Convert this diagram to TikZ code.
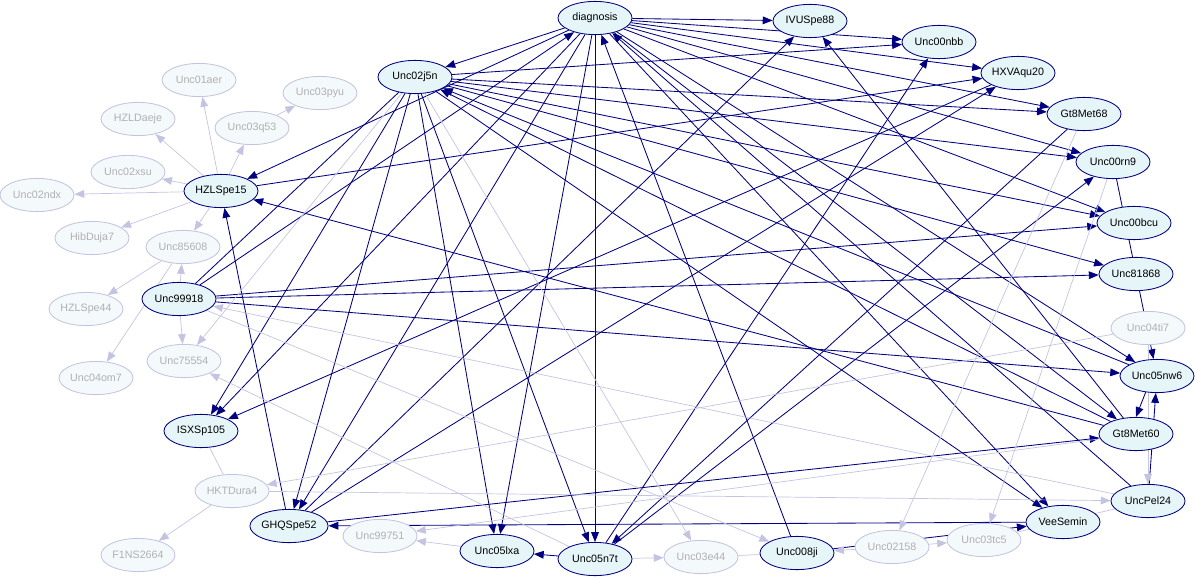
\documentclass[tikz,border=0pt]{standalone}
\usepackage{fontspec}
\setmainfont{Liberation Sans}
\usetikzlibrary{arrows.meta, shapes.geometric, backgrounds}
\definecolor{mbline}{RGB}{0,0,128}
\definecolor{mbfill}{RGB}{229,245,248}
\definecolor{farline}{RGB}{196,196,226}
\definecolor{farfill}{RGB}{244,249,251}
\definecolor{fartext}{RGB}{176,176,176}
\tikzset{
  varnode/.style = {ellipse, align=center, inner sep=0pt, line width=0.6pt,
    minimum width=1.85cm, minimum height=0.83cm,
    font=\fontsize{7.6}{9}\selectfont},
  mbnode/.style = {varnode, draw=mbline, fill=mbfill, text=black},
  farnode/.style = {varnode, draw=farline, fill=farfill, text=fartext},
  faredge/.style = {draw=farline, line width=0.5pt}
}
\begin{document}
\begin{tikzpicture}[x=0.025cm, y=-0.025cm, ->, >={Triangle[length=7pt, width=5.5pt]},
  every edge/.style={draw=mbline, line width=0.6pt}]
\useasboundingbox (0,0) rectangle (1195,578);
% markov blanket
\node [mbnode] (diagnosis) at (595,18) {diagnosis};
\node [mbnode] (IVUSpe88) at (810,21) {IVUSpe88};
\node [mbnode] (Unc00nbb) at (939,42) {Unc00nbb};
\node [mbnode] (HXVAqu20) at (1018,73) {HXVAqu20};
\node [mbnode] (Gt8Met68) at (1084,114) {Gt8Met68};
\node [mbnode] (Unc00rn9) at (1113,162) {Unc00rn9};
\node [mbnode] (Unc00bcu) at (1134,223) {Unc00bcu};
\node [mbnode] (Unc81868) at (1136,274) {Unc81868};
\node [mbnode] (Unc05nw6) at (1157,376) {Unc05nw6};
\node [mbnode] (Gt8Met60) at (1136,434) {Gt8Met60};
\node [mbnode] (UncPel24) at (1148,501) {UncPel24};
\node [mbnode] (VeeSemin) at (1063,522) {VeeSemin};
\node [mbnode] (Unc008ji) at (797,553) {Unc008ji};
\node [mbnode] (Unc05n7t) at (595,559) {Unc05n7t};
\node [mbnode] (Unc05lxa) at (497,551) {Unc05lxa};
\node [mbnode] (GHQSpe52) at (289,526) {GHQSpe52};
\node [mbnode] (ISXSp105) at (201,431) {ISXSp105};
\node [mbnode] (Unc99918) at (179,299) {Unc99918};
\node [mbnode] (HZLSpe15) at (221,191) {HZLSpe15};
\node [mbnode] (Unc02j5n) at (415,77) {Unc02j5n};
% the rest
\node [farnode] (Unc01aer) at (199,80) {Unc01aer};
\node [farnode] (Unc03pyu) at (320,93) {Unc03pyu};
\node [farnode] (HZLDaeje) at (138,119) {HZLDaeje};
\node [farnode] (Unc03q53) at (252,128) {Unc03q53};
\node [farnode] (Unc02xsu) at (128,172) {Unc02xsu};
\node [farnode] (Unc02ndx) at (37,195) {Unc02ndx};
\node [farnode] (HibDuja7) at (92,238) {HibDuja7};
\node [farnode] (Unc85608) at (183,247) {Unc85608};
\node [farnode] (HZLSpe44) at (86,309) {HZLSpe44};
\node [farnode] (Unc75554) at (184,361) {Unc75554};
\node [farnode] (Unc04om7) at (96,378) {Unc04om7};
\node [farnode] (HKTDura4) at (232,491) {HKTDura4};
\node [farnode] (F1NS2664) at (138,555) {F1NS2664};
\node [farnode] (Unc99751) at (380,536) {Unc99751};
\node [farnode] (Unc03e44) at (701,557) {Unc03e44};
\node [farnode] (Unc02158) at (892,547) {Unc02158};
\node [farnode] (Unc03tc5) at (984,540) {Unc03tc5};
\node [farnode] (Unc04ti7) at (1148,328) {Unc04ti7};

\begin{scope}[on background layer]
\path (diagnosis) edge (IVUSpe88) edge (Unc00nbb) edge (HXVAqu20) edge (Gt8Met68)
  edge (Unc00rn9) edge (Unc00bcu) edge (Unc05nw6) edge (Gt8Met60) edge (VeeSemin)
  edge (Unc05n7t) edge (Unc05lxa) edge (GHQSpe52) edge (ISXSp105) edge (HZLSpe15)
  edge (Unc02j5n);
\path (Unc02j5n) edge (Unc00nbb) edge (Gt8Met68) edge (Unc00rn9) edge (Unc00bcu)
  edge (Unc81868) edge (VeeSemin) edge (Unc05n7t) edge (Unc05lxa) edge (GHQSpe52)
  edge (ISXSp105);
\path (Unc99918) edge (diagnosis) edge (Unc00bcu) edge (Unc81868) edge (Unc05nw6)
  edge [-] (Unc02j5n);
\path (GHQSpe52) edge (IVUSpe88) edge (HXVAqu20) edge (HZLSpe15) edge (Gt8Met60);
\path (Gt8Met60) edge (HZLSpe15) edge (IVUSpe88) edge (Unc02j5n);
\path (Unc05n7t) edge (Unc00nbb) edge (Unc00rn9) edge (Unc05lxa);
\path (Unc008ji) edge (diagnosis) edge (VeeSemin);
\path (UncPel24) edge (diagnosis) edge (Unc05nw6);
\path (Gt8Met68) edge (Unc05n7t);
\path (VeeSemin) edge (GHQSpe52);
\path (HZLSpe15) edge (HXVAqu20);
\path (HXVAqu20) edge (ISXSp105);
\path (Unc00rn9) edge (Unc05nw6);
\path (Unc05nw6) edge (Unc02j5n);
\path (Unc05nw6.235) edge (Gt8Met60.north);
% faded part
\path [every edge/.style={faredge}]
  (HZLSpe15) edge (Unc01aer) edge (HZLDaeje) edge (Unc03q53) edge (Unc02xsu)
    edge (Unc02ndx) edge (HibDuja7) edge (Unc85608)
  (Unc03q53) edge (Unc03pyu)
  (Unc99918) edge (Unc85608) edge (Unc75554) edge (Unc008ji)
  (Unc85608) edge (HZLSpe44) edge (Unc04om7)
  (Unc02j5n) edge (Unc75554) edge (Unc03e44)
  (Unc05n7t) edge (Unc75554) edge (Unc03e44)
  (Unc03e44) edge [-] (Unc008ji)
  (Unc05lxa) edge (Unc99751)
  (Gt8Met60) edge (Unc99751)
  (ISXSp105) edge [-] (HKTDura4)
  (HKTDura4) edge (F1NS2664) edge (UncPel24)
  (Unc04ti7) edge (HKTDura4) edge (UncPel24)
  (UncPel24) edge (Unc99918)
  (Gt8Met68) edge (Unc02158)
  (Unc00rn9) edge (Unc03tc5)
  (Unc02158) edge (Unc008ji) edge (Unc03tc5)
  (Unc03tc5) edge [-] (UncPel24);
\end{scope}
\end{tikzpicture}
\end{document}
